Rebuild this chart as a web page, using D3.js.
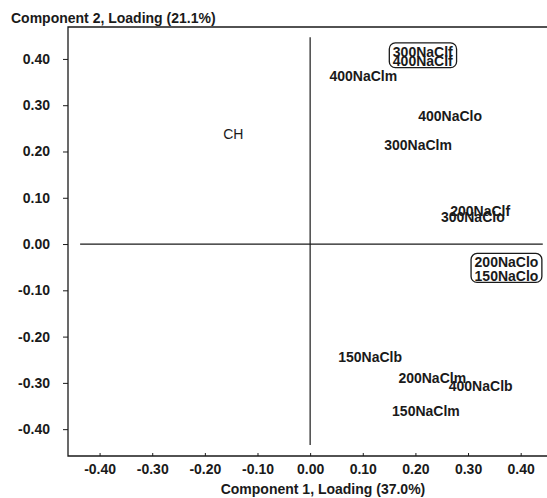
<!DOCTYPE html>
<html>
<head>
<meta charset="utf-8">
<script src="https://cdn.jsdelivr.net/npm/d3@7/dist/d3.min.js"></script>
<style>
  html, body { margin: 0; padding: 0; background: #fff; }
  svg { display: block; font-family: "Liberation Sans", Arial, sans-serif; }
</style>
</head>
<body>
<svg id="chart" width="547" height="498"></svg>
<script>
// PCA loadings: component 1 (x) against component 2 (y)
const labels = ["CH", "300NaClf", "400NaClf", "400NaClm", "400NaClo", "300NaClm",
                "200NaClf", "300NaClo", "200NaClo", "150NaClo", "150NaClb",
                "200NaClm", "400NaClb", "150NaClm"];
const pc1 = [-0.146, 0.214, 0.214, 0.101, 0.266, 0.205, 0.323, 0.309, 0.373, 0.373,
             0.114, 0.232, 0.324, 0.220];
const pc2 = [0.238, 0.415, 0.395, 0.362, 0.277, 0.213, 0.072, 0.059, -0.040, -0.069,
             -0.244, -0.290, -0.307, -0.361];
// labels that are framed together because they overlap
const boxedGroups = [["300NaClf", "400NaClf"], ["200NaClo", "150NaClo"]];

const xTicks = [-0.4, -0.3, -0.2, -0.1, 0, 0.1, 0.2, 0.3, 0.4];
const yTicks = [0.4, 0.3, 0.2, 0.1, 0, -0.1, -0.2, -0.3, -0.4];
const xTitle = "Component 1, Loading (37.0%)";
const yTitle = "Component 2, Loading (21.1%)";

const svg = d3.select("#chart");
const plotLeft = 68, plotRight = 547, plotTop = 27, plotBottom = 456;
const x = d3.scaleLinear().domain([-0.46, 0.45]).range([plotLeft, plotRight]);
const y = d3.scaleLinear().domain([-0.458, 0.469]).range([plotBottom, plotTop]);
const ink = "#1a1a1a";
// plain hyphen-minus for negative tick values
const fmt = d => (Math.abs(d) < 1e-9 ? 0 : d).toFixed(2);

// left axis with outward ticks
const yAxis = d3.axisLeft(y).tickValues(yTicks).tickSize(5).tickPadding(13)
  .tickFormat(fmt);
const gy = svg.append("g").attr("transform", `translate(${plotLeft},0)`).call(yAxis);
gy.select(".domain").remove();
gy.selectAll("line").attr("stroke", ink);
gy.selectAll("text").attr("font-size", 14).attr("font-weight", "bold")
  .attr("fill", ink);

// bottom axis: labels only, small ticks inside
const xAxis = d3.axisBottom(x).tickValues(xTicks).tickSize(-3).tickPadding(8)
  .tickFormat(fmt);
const gx = svg.append("g").attr("transform", `translate(0,${plotBottom})`).call(xAxis);
gx.select(".domain").remove();
gx.selectAll("line").attr("stroke", ink);
gx.selectAll("text").attr("font-size", 14).attr("font-weight", "bold")
  .attr("fill", ink);

// frame: left, top and bottom edges
svg.append("path")
  .attr("d", `M${plotRight},${plotTop}H${plotLeft}V${plotBottom}H${plotRight}`)
  .attr("fill", "none").attr("stroke", ink).attr("stroke-width", 1.3);

// zero lines
svg.append("line")
  .attr("x1", x(-0.437)).attr("x2", x(0.442)).attr("y1", y(0)).attr("y2", y(0))
  .attr("stroke", ink).attr("stroke-width", 1.2);
svg.append("line")
  .attr("x1", x(0)).attr("x2", x(0)).attr("y1", y(0.447)).attr("y2", y(-0.434))
  .attr("stroke", ink).attr("stroke-width", 1.2);

// titles
svg.append("text").attr("x", 11).attr("y", 23)
  .attr("font-size", 14).attr("font-weight", "bold").attr("fill", ink)
  .text(yTitle);
svg.append("text").attr("x", 323).attr("y", 494).attr("text-anchor", "middle")
  .attr("font-size", 14).attr("font-weight", "bold").attr("fill", ink)
  .text(xTitle);

// loading labels
const points = labels.map((name, i) => ({ name, px: pc1[i], py: pc2[i] }));
const gl = svg.append("g");
gl.selectAll("text").data(points).join("text")
  .attr("x", d => x(d.px)).attr("y", d => y(d.py)).attr("dy", "0.35em")
  .attr("text-anchor", "middle")
  .attr("font-size", 14)
  .attr("font-weight", d => d.name === "CH" ? "normal" : "bold")
  .attr("fill", ink)
  .text(d => d.name);

// rounded frames around overlapping label pairs
boxedGroups.forEach(group => {
  const boxes = gl.selectAll("text").filter(d => group.includes(d.name)).nodes()
    .map(n => n.getBBox());
  const x0 = d3.min(boxes, b => b.x) - 3.5, x1 = d3.max(boxes, b => b.x + b.width) + 3.5;
  const y0 = d3.min(boxes, b => b.y) - 1, y1 = d3.max(boxes, b => b.y + b.height) - 1.5;
  svg.append("rect")
    .attr("x", x0).attr("y", y0).attr("width", x1 - x0).attr("height", y1 - y0)
    .attr("rx", 6).attr("ry", 6)
    .attr("fill", "none").attr("stroke", ink).attr("stroke-width", 1.3);
});
</script>
</body>
</html>
